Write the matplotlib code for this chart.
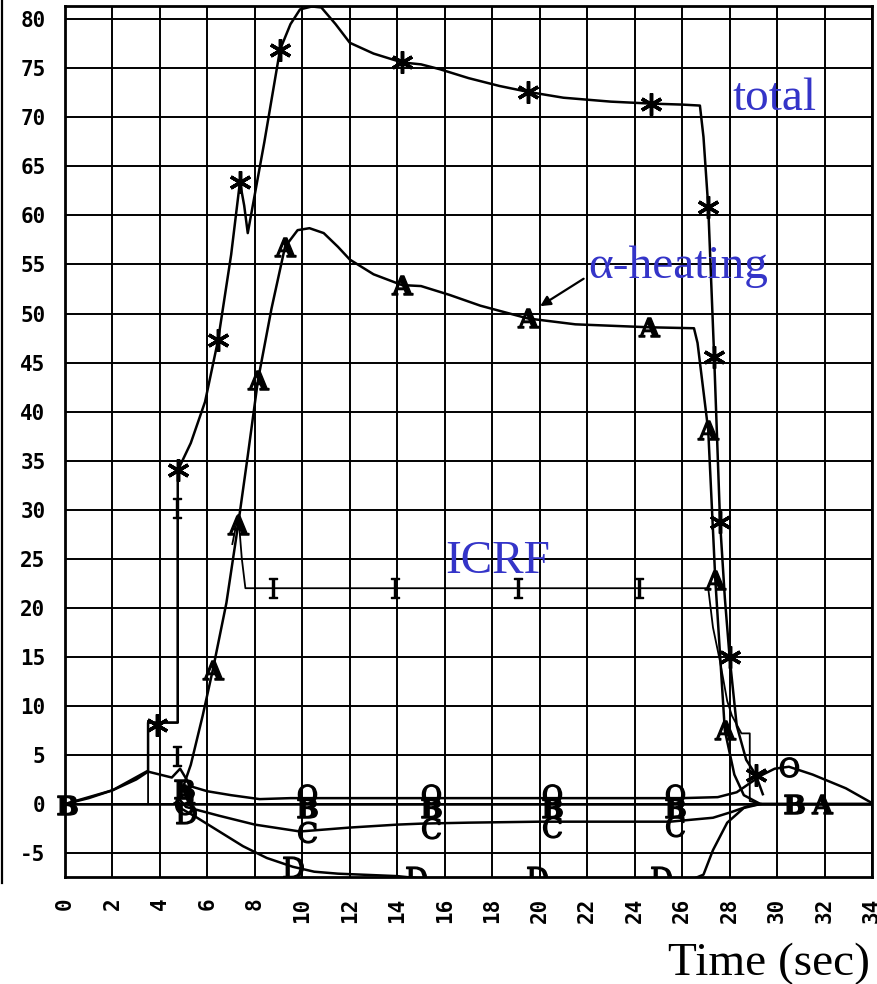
import numpy as np
import matplotlib
matplotlib.use("Agg")
import matplotlib.pyplot as plt
from matplotlib.lines import Line2D

plt.rcParams["mathtext.fontset"] = "dejavuserif"
plt.rcParams["axes.unicode_minus"] = False

nan = np.nan

# total heating power (MW), markers '*'
total_x = [0, 2.0, 3.5, 3.5, 4.75, 4.75, 5.3, 5.9, 6.45, 7.0, 7.37, 7.55, 7.7, 8.4, 9.06,
           9.5, 9.9, 10.4, 10.8, 11.4, 12.0, 13.0, 14.2, 15.0, 15.8, 17.0, 18.3, 19.5,
           21.0, 23.0, 24.7, 26.0, 26.75, 26.9, 27.1, 27.35, 27.6, 27.8, 28.0, 28.3,
           28.7, 29.1, 29.4]
total_y = [0, 1.4, 3.4, 8.3, 8.3, 34.0, 36.8, 41.0, 47.3, 56.0, 63.4, 61.0, 58.2, 67.5, 76.9,
           79.5, 81.0, 81.3, 81.2, 79.5, 77.6, 76.5, 75.6, 75.4, 74.9, 74.0, 73.2, 72.6,
           72.0, 71.6, 71.4, 71.3, 71.2, 68.0, 60.9, 45.6, 28.7, 21.0, 15.0, 8.0,
           4.5, 3.0, 1.0]
total_mx = [3.88, 4.76, 6.45, 7.37, 9.06, 14.2, 19.5, 24.7, 27.1, 27.35, 27.6, 28.0, 29.1]
total_my = [8.1, 34.0, 47.3, 63.4, 76.9, 75.6, 72.6, 71.4, 60.9, 45.6, 28.7, 15.0, 3.0]

# alpha heating, markers 'A'
alpha_x = [4.8, 5.3, 5.8, 6.23, 6.8, 7.29, 7.7, 8.13, 8.7, 9.27, 9.8, 10.3, 10.9, 11.5,
           12.0, 13.0, 14.2, 15.0, 16.2, 17.5, 19.5, 21.5, 24.6, 26.5, 26.65, 27.1,
           27.4, 27.8, 28.2, 28.6, 29.3, 34]
alpha_y = [0.5, 4.0, 9.0, 13.7, 20.5, 28.4, 35.5, 43.2, 50.5, 56.8, 58.5, 58.7, 58.2, 56.8,
           55.5, 54.0, 52.9, 52.8, 51.9, 50.8, 49.5, 48.9, 48.6, 48.5, 47.0, 38.1,
           22.8, 7.5, 3.0, 0.9, 0.0, 0.0]
alpha_mx = [5.0, 6.23, 7.29, 8.13, 9.27, 14.2, 19.5, 24.6, 27.1, 27.4, 27.8, 31.9]
alpha_my = [1.0, 13.7, 28.4, 43.2, 56.8, 52.9, 49.5, 48.6, 38.1, 22.8, 7.5, 0.0]

# ICRF power, markers 'I'
icrf_x = [0, 3.5, 3.5, 4.75, 4.75, nan, 7.05, 7.3, 7.45, 7.6, 27.1, 27.3, 27.6, 27.9,
          28.1, 28.5, 28.85, 28.85, 29.3]
icrf_y = [0, 0, 8.3, 8.3, 30.0, nan, 26.5, 29.5, 25.0, 22.0, 22.0, 18.0, 14.5, 10.5,
          9.0, 7.2, 7.2, 0.3, 0.0]
icrf_mx = [4.72, 4.72, 8.75, 13.9, 19.1, 24.2]
icrf_my = [4.9, 30.2, 22.0, 22.0, 22.0, 22.0]

# ohmic power, markers 'O'
ohm_x = [0, 1.0, 2.0, 3.0, 3.5, 4.5, 4.85, 5.3, 6.0, 7.0, 8.2, 9.5, 11, 14, 18, 22, 26,
         27.5, 28.3, 28.9, 29.4, 29.9, 30.5, 31.5, 32.9, 34]
ohm_y = [0, 0.6, 1.4, 2.5, 3.3, 2.7, 3.6, 1.8, 1.3, 0.9, 0.5, 0.6, 0.6, 0.6, 0.6, 0.6, 0.6,
         0.7, 1.2, 2.2, 3.0, 3.6, 3.8, 3.0, 1.6, 0.1]
ohm_mx = [10.2, 15.4, 20.5, 25.7, 30.5]
ohm_my = [1.0, 1.0, 1.0, 1.0, 3.8]

# series 'B'
b_x = [0, 34]
b_y = [0, 0]
b_mx = [0.1, 5.0, 10.2, 15.4, 20.5, 25.7, 30.7]
b_my = [-0.1, 1.5, -0.4, -0.4, -0.4, -0.4, 0.0]

# series 'C'
c_x = [4.85, 5.1, 6.5, 8.0, 9.9, 12.0, 14.0, 15.0, 17.0, 20.0, 22.0, 25.5, 27.3, 28.1,
       28.8, 29.3]
c_y = [0.4, -0.3, -1.2, -2.1, -2.8, -2.4, -2.1, -2.0, -1.9, -1.8, -1.8, -1.8, -1.4, -0.8,
       -0.2, 0.0]
c_mx = [5.0, 10.2, 15.4, 20.5, 25.7]
c_my = [0.0, -2.85, -2.45, -2.35, -2.25]

# series 'D'
d_x = [4.85, 5.5, 6.5, 7.5, 8.5, 9.6, 10.5, 11.5, 12.5, 14.0, 15.0, 26.5, 26.9, 27.3,
       27.9, 28.6, 29.3, 34]
d_y = [-0.4, -1.3, -2.8, -4.3, -5.5, -6.4, -6.9, -7.1, -7.2, -7.35, -7.6, -7.6, -7.2,
       -4.7, -1.9, -0.4, 0.0, 0.0]
d_mx = [5.1, 9.6, 14.8, 19.9, 25.1]
d_my = [-0.9, -6.4, -7.4, -7.4, -7.4]

x_ticks = list(range(0, 35, 2))
y_ticks = list(range(-5, 81, 5))

fig = plt.figure(figsize=(8.78, 9.84), dpi=100)
ax = fig.add_axes([65 / 878, 1 - 877 / 984, 807 / 878, 871 / 984])

ax.set_xlim(0, 34)
ax.set_ylim(-7.44, 81.35)
ax.set_xticks(x_ticks)
ax.set_yticks(y_ticks)
ax.grid(True, color="black", lw=1.4)
ax.set_axisbelow(True)
ax.tick_params(length=0)
ax.tick_params(axis="x", pad=15)
ax.tick_params(axis="y", pad=14)
for lab in ax.get_xticklabels():
    lab.set_rotation(90)
    lab.set_fontfamily("DejaVu Sans Mono")
    lab.set_fontweight("bold")
    lab.set_fontsize(15)
    lab.set_va("top")
for lab in ax.get_yticklabels():
    lab.set_fontfamily("DejaVu Sans Mono")
    lab.set_fontweight("bold")
    lab.set_fontsize(15)
for sp in ax.spines.values():
    sp.set_linewidth(2.0)

line_kw = dict(color="black", lw=1.8, zorder=3)
mark_kw = dict(color="black", linestyle="none", zorder=4)

ax.plot(total_x, total_y, **line_kw)
ax.plot(total_mx, total_my, marker=(6, 2, 0), ms=16, mew=2.5, **mark_kw)

ax.plot(alpha_x, alpha_y, **line_kw)
ax.plot(alpha_mx, alpha_my, marker=r"$\mathbf{A}$", ms=15, **mark_kw)

ax.plot(icrf_x, icrf_y, color="black", lw=1.3, zorder=3)
ax.plot(icrf_mx, icrf_my, marker=r"$\mathrm{I}$", ms=15, **mark_kw)

ax.plot(ohm_x, ohm_y, **line_kw)
ax.plot(ohm_mx, ohm_my, marker=r"$\mathrm{O}$", ms=14, **mark_kw)

ax.plot(b_x, b_y, **line_kw)
ax.plot(b_mx, b_my, marker=r"$\mathbf{B}$", ms=14, clip_on=False, **mark_kw)

ax.plot(c_x, c_y, **line_kw)
ax.plot(c_mx, c_my, marker=r"$\mathrm{C}$", ms=15, **mark_kw)

ax.plot(d_x, d_y, **line_kw)
ax.plot(d_mx, d_my, marker=r"$\mathrm{D}$", ms=15, **mark_kw)

blue = "#3434c8"
serif = "Liberation Serif"
ax.text(28.14, 70.7, "total", color=blue, fontsize=34, family=serif, va="baseline", zorder=5)
ax.text(22.03, 53.6, "α-heating", color=blue, fontsize=34, family=serif, va="baseline", zorder=5)
ax.text(16.0, 23.5, "ICRF", color=blue, fontsize=34, family=serif, va="baseline", zorder=5)
ax.annotate("", xy=(19.92, 50.6), xytext=(21.95, 53.7),
            arrowprops=dict(arrowstyle="-|>,head_length=0.6,head_width=0.3",
                            color="black", lw=1.6), zorder=5)

fig.text(0.991, 1 - 975 / 984, "Time (sec)", fontsize=34, family=serif,
         ha="right", va="baseline")
fig.add_artist(Line2D([2 / 878, 2 / 878], [1, 1 - 883 / 984],
                      transform=fig.transFigure, color="black", lw=1.6))

fig.savefig("out.png", dpi=100)
